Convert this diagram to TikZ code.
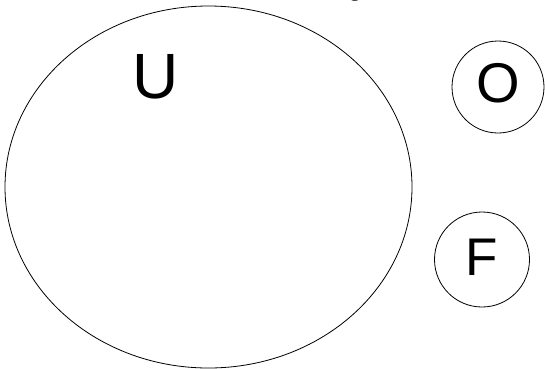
\documentclass[tikz,border=0pt]{standalone}
\usepackage{fontspec}
\setmainfont{Liberation Sans}
\newfontfamily\serifg{Liberation Serif}
\tikzset{
  set/.style={draw=black, line width=0.8pt},
  lbl/.style={inner sep=0pt, text=black},
}
\begin{document}
\begin{tikzpicture}[x=1pt,y=-1pt]
\useasboundingbox (0,0) rectangle (545,368);
\clip (0,0) rectangle (545,368);
\draw[set] (208.5,187) ellipse [x radius=203.5, y radius=181];
\node[set, circle, minimum size=92pt, inner sep=0pt] (O) at (498,87) {};
\node[set, circle, minimum size=95pt, inner sep=0pt] (F) at (482,259.5) {};
\node[lbl, font=\fontsize{64}{64}\selectfont] (U) at (156,77) {U};
\node[lbl, font=\fontsize{56}{56}\selectfont] (Ol) at (498,83) {O};
\node[lbl, font=\fontsize{53}{53}\selectfont] (Fl) at (482,257) {F};
\node[lbl, anchor=base, font=\serifg\fontsize{22}{22}\selectfont] (g) at (355,-3.5) {g};
\end{tikzpicture}
\end{document}
